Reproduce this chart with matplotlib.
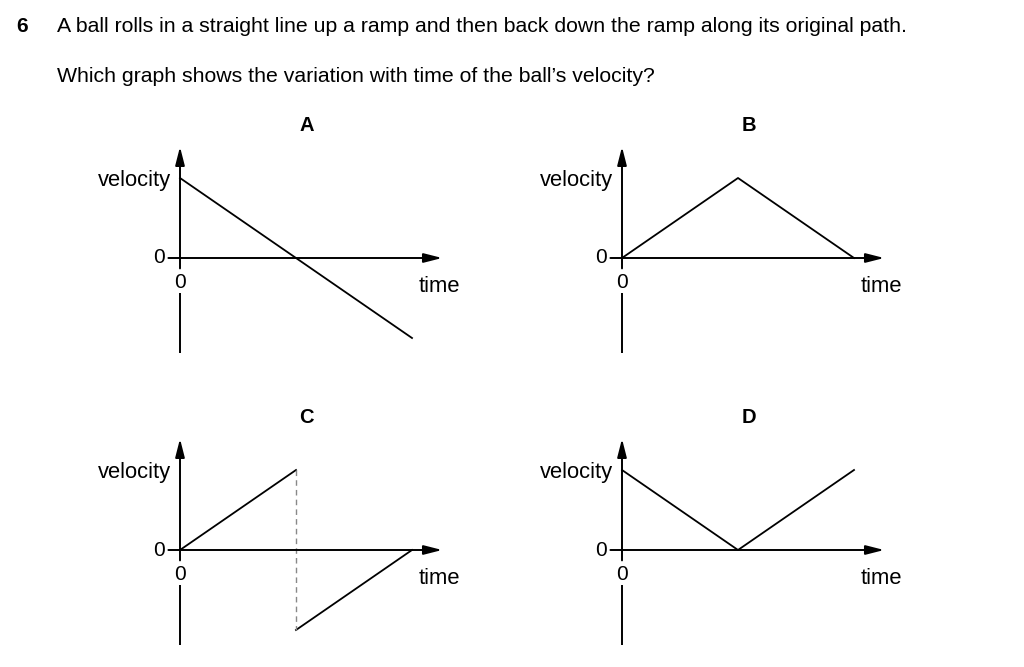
import matplotlib.pyplot as plt

plt.rcParams['font.family'] = ['Liberation Sans', 'DejaVu Sans']

# question text
number = "6"
question = "A ball rolls in a straight line up a ramp and then back down the ramp along its original path."
prompt = "Which graph shows the variation with time of the ball\u2019s velocity?"

# the four options: time / velocity points (time 0..2, velocity -1..1)
letters = ["A", "B", "C", "D"]
time_a = [0, 2]
vel_a = [1, -1]
time_b = [0, 1, 2]
vel_b = [0, 1, 0]
time_c1 = [0, 1]
vel_c1 = [0, 1]
time_c2 = [1, 2]
vel_c2 = [-1, 0]
time_c_jump = [1, 1]
vel_c_jump = [1, -1]
time_d = [0, 1, 2]
vel_d = [1, 0, 1]

W, H = 1024, 667
fig = plt.figure(figsize=(W / 100, H / 100), dpi=100)
fig.patch.set_facecolor('white')

fig.text(16 / W, 1 - 27 / H, number, fontsize=15, fontweight='bold', va='center', ha='left')
fig.text(57 / W, 1 - 27 / H, question, fontsize=15.3, va='center', ha='left')
fig.text(57 / W, 1 - 77 / H, prompt, fontsize=15.3, va='center', ha='left')

# pixel position of each panel's origin
origins = [(180, 258), (622, 258), (180, 550), (622, 550)]
px_t, px_v = 116, 80          # pixels per unit
t0, t1, v0, v1 = -1.0, 2.6, -1.4, 1.6

axes = []
for (ox, oy) in origins:
    left = ox + t0 * px_t
    bottom = oy - v0 * px_v
    ax = fig.add_axes([left / W, 1 - bottom / H, (t1 - t0) * px_t / W, (v1 - v0) * px_v / H])
    ax.set_xlim(t0, t1)
    ax.set_ylim(v0, v1)
    ax.axis('off')
    axes.append(ax)

arrow = dict(arrowstyle='-|>,head_length=0.55,head_width=0.14', color='black',
             lw=1.4, shrinkA=0, shrinkB=0, mutation_scale=20)

for ax, letter in zip(axes, letters):
    # time axis
    ax.annotate('', xy=(2.26, 0), xytext=(-0.1, 0), arrowprops=arrow)
    # velocity axis, broken around the "0" label
    ax.annotate('', xy=(0, 1.39), xytext=(0, -0.13), arrowprops=arrow)
    ax.plot([0, 0], [-0.44, -1.19], color='black', lw=1.4, solid_capstyle='butt')
    ax.text(-0.18, 0, "0", fontsize=15, ha='center', va='center')
    ax.text(0, -0.31, "0", fontsize=15, ha='center', va='center')
    ax.text(-0.08, 0.97, "velocity", fontsize=15.8, ha='right', va='center')
    ax.text(2.24, -0.36, "time", fontsize=15.8, ha='center', va='center')
    ax.text(1.09, 1.66, letter, fontsize=14.5, fontweight='bold', ha='center', va='center')

lw = 1.3
axes[0].plot(time_a, vel_a, color='black', lw=lw)
axes[1].plot(time_b, vel_b, color='black', lw=lw)
axes[2].plot(time_c1, vel_c1, color='black', lw=lw)
axes[2].plot(time_c2, vel_c2, color='black', lw=lw)
axes[2].plot(time_c_jump, vel_c_jump, color='#888888', lw=1.0, ls=(0, (4, 3)))
axes[3].plot(time_d, vel_d, color='black', lw=lw)

fig.savefig('out.png', dpi=100, facecolor='white')
